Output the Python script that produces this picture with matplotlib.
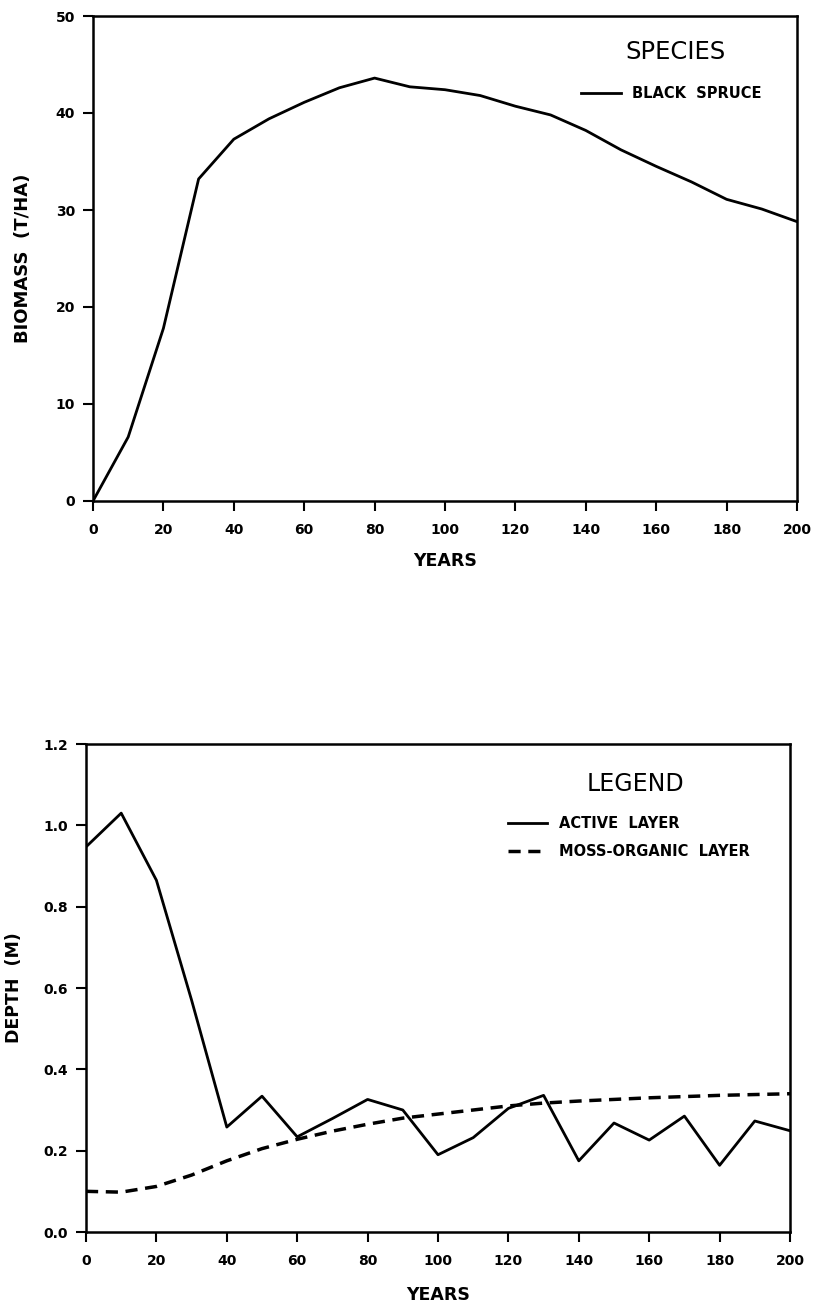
import numpy as np
import matplotlib.pyplot as plt

years = np.arange(0, 201, 10)

# biomass of black spruce (t/ha)
black_spruce = [0.0, 6.6, 17.8, 33.2, 37.3, 39.4, 41.1, 42.6, 43.6, 42.7, 42.4,
                41.8, 40.7, 39.8, 38.2, 36.2, 34.5, 32.9, 31.1, 30.1, 28.8]

# depths (m)
active_layer = [0.947, 1.03, 0.865, 0.57, 0.258, 0.334, 0.234, 0.279, 0.326, 0.300, 0.19,
                0.232, 0.304, 0.336, 0.175, 0.268, 0.226, 0.285, 0.164, 0.273, 0.249]
moss_organic = [0.100, 0.098, 0.112, 0.140, 0.175, 0.205, 0.228, 0.248, 0.265, 0.280, 0.290,
                0.300, 0.310, 0.317, 0.322, 0.326, 0.330, 0.333, 0.336, 0.338, 0.340]

x_ticks = np.arange(0, 201, 20)
biomass_ticks = np.arange(0, 51, 10)
depth_ticks = np.arange(0, 1.21, 0.2)

plt.rcParams["font.family"] = "DejaVu Sans"
fig = plt.figure(figsize=(8.19, 13.04), dpi=100)

ax1 = fig.add_axes([93/819, 1-501/1304, 704/819, 485/1304])
ax2 = fig.add_axes([86/819, 1-1232/1304, 704/819, 488/1304])


def style_axes(ax):
    for s in ax.spines.values():
        s.set_linewidth(1.8)
    ax.tick_params(axis="both", direction="out", length=7, width=1.5, labelsize=10)
    ax.tick_params(axis="x", pad=9)
    ax.tick_params(axis="y", pad=6)
    for lab in ax.get_xticklabels() + ax.get_yticklabels():
        lab.set_fontweight("bold")
    ax.set_xlim(0, 200)
    ax.set_xticks(x_ticks)
    ax.set_xlabel("YEARS", fontsize=12.5, fontweight="bold")


leg_font = {"weight": "bold", "size": 10.5}

# top panel: biomass
ax1.plot(years, black_spruce, color="black", lw=2, label="BLACK  SPRUCE")
ax1.set_ylim(0, 50)
ax1.set_yticks(biomass_ticks)
style_axes(ax1)
ax1.set_ylabel("BIOMASS  (T/HA)", fontsize=13, fontweight="bold")
ax1.yaxis.set_label_coords(-0.087, 0.5)
ax1.xaxis.set_label_coords(0.5, -0.106)
ax1.text(0.827, 0.926, "SPECIES", transform=ax1.transAxes, fontsize=17.5,
         ha="center", va="center")
ax1.legend(loc="center", bbox_to_anchor=(0.822, 0.841), frameon=False, borderpad=0,
           handlelength=2.7, handletextpad=0.8, prop=leg_font)

# bottom panel: depth
ax2.plot(years, active_layer, color="black", lw=2, label="ACTIVE  LAYER")
ax2.plot(years, moss_organic, color="black", lw=2.5, dashes=(3.5, 2.2),
         label="MOSS-ORGANIC  LAYER")
ax2.set_ylim(0, 1.2)
ax2.set_yticks(depth_ticks)
ax2.set_yticklabels([f"{v:.1f}" for v in depth_ticks])
style_axes(ax2)
ax2.set_ylabel("DEPTH  (M)", fontsize=12.5, fontweight="bold")
ax2.yaxis.set_label_coords(-0.090, 0.5)
ax2.xaxis.set_label_coords(0.5, -0.110)
ax2.text(0.781, 0.918, "LEGEND", transform=ax2.transAxes, fontsize=17,
         ha="center", va="center")
ax2.legend(loc="center", bbox_to_anchor=(0.771, 0.808), frameon=False, borderpad=0,
           handlelength=2.7, handletextpad=0.8, labelspacing=0.85, prop=leg_font)

fig.savefig("out.png", dpi=100, facecolor="white")
